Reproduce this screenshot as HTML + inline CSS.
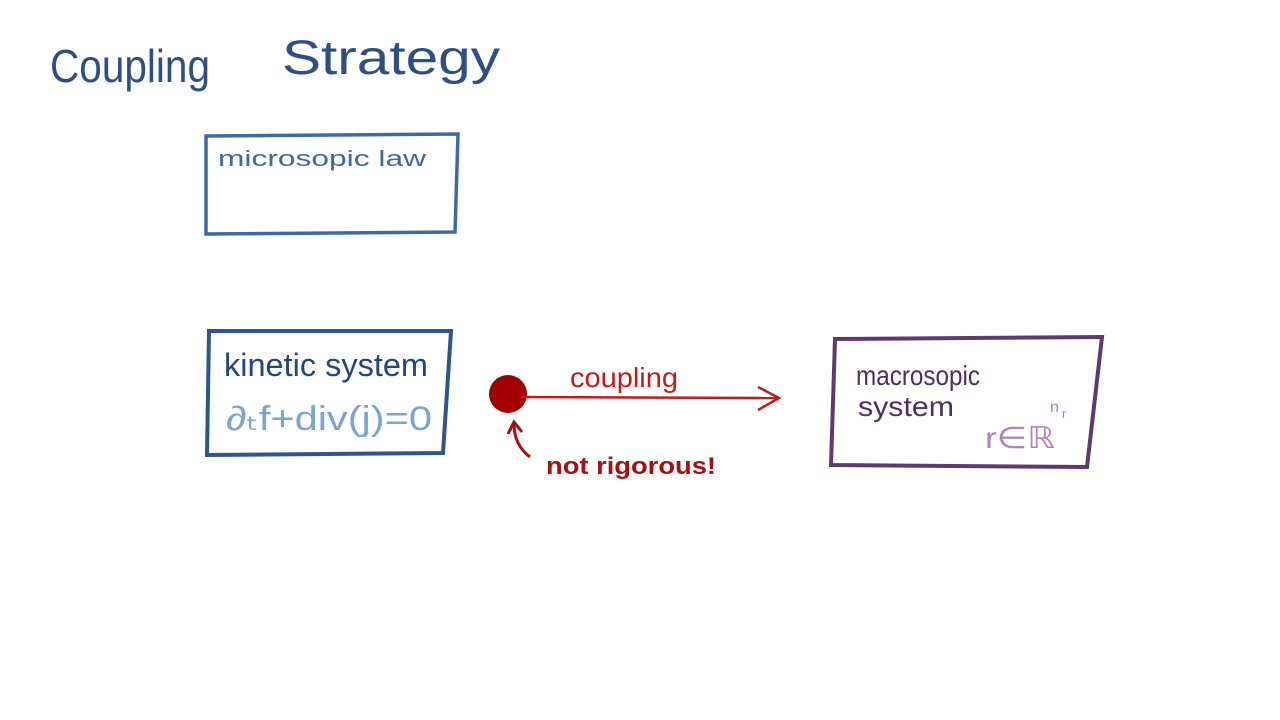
<!DOCTYPE html>
<html><head><meta charset="utf-8"><style>
body{margin:0;width:1280px;height:720px;background:#fff;overflow:hidden}
svg{display:block}
text{font-family:"Liberation Sans",sans-serif}
</style></head><body>
<svg width="1280" height="720" viewBox="0 0 1280 720">
<text x="50" y="82" font-size="46" fill="#2d4f86" textLength="160" lengthAdjust="spacingAndGlyphs">Coupling</text>
<text x="282" y="74" font-size="48" fill="#2d4f86" textLength="218" lengthAdjust="spacingAndGlyphs">Strategy</text>

<path d="M206 136 L458 134 L455 232 L206 234 Z" fill="none" stroke="#3d6aa5" stroke-width="3.5"/>
<text x="218" y="166" font-size="22" fill="#3d6aa5" textLength="208" lengthAdjust="spacingAndGlyphs">microsopic  law</text>

<path d="M209 331 L451 331 L443 453 L207 455 Z" fill="none" stroke="#2d5690" stroke-width="4"/>
<text x="224" y="376" font-size="32" fill="#24467f" textLength="204" lengthAdjust="spacingAndGlyphs">kinetic system</text>
<text x="226" y="430" font-size="34" fill="#7aa3d6" textLength="206" lengthAdjust="spacingAndGlyphs">∂ₜf+div(j)=0</text>

<circle cx="508" cy="394" r="19" fill="#a00000"/>
<line x1="520" y1="397" x2="778" y2="398" stroke="#c51a1a" stroke-width="2.5"/>
<path d="M758 387 L779 398 L758 410" fill="none" stroke="#c51a1a" stroke-width="2.5"/>
<text x="570" y="387" font-size="28" fill="#c51a1a" textLength="108" lengthAdjust="spacingAndGlyphs">coupling</text>
<path d="M530 457 Q514 445 514 424 M508 434 L514 422 L522 432" fill="none" stroke="#a81010" stroke-width="3"/>
<text x="546" y="474" font-size="24" fill="#a81010" font-weight="bold" textLength="170" lengthAdjust="spacingAndGlyphs">not rigorous!</text>

<path d="M835 339 L1102 337 L1087 467 L831 465 Z" fill="none" stroke="#5e3a70" stroke-width="4"/>
<text x="856" y="385" font-size="28" fill="#4e2e63" textLength="124" lengthAdjust="spacingAndGlyphs">macrosopic</text>
<text x="858" y="416" font-size="28" fill="#4e2e63" textLength="96" lengthAdjust="spacingAndGlyphs">system</text>
<text x="985" y="448" font-size="30" fill="#b184b5" textLength="70" lengthAdjust="spacingAndGlyphs">r∈ℝ</text>
<text x="1050" y="412" font-size="16" fill="#b184b5">n</text><text x="1062" y="418" font-size="13" fill="#b184b5">r</text>
</svg>
</body></html>
